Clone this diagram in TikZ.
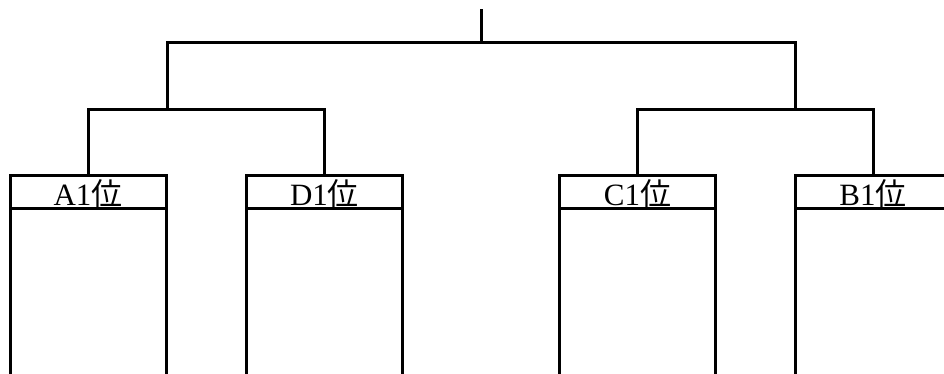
\documentclass[tikz,border=0pt]{standalone}
\usepackage{fontspec}
\setmainfont{Liberation Serif}
\newfontfamily\cjk{Noto Sans CJK JP}
\begin{document}
\begin{tikzpicture}[x=1pt,y=-1pt,
  ln/.style={line width=3pt,line join=miter,black},
  head/.style={ln,draw,rectangle,anchor=north west,minimum width=156pt,minimum height=33pt,inner sep=0pt,outer sep=0pt,font=\fontsize{31}{33}\selectfont,text depth=0pt}]
\useasboundingbox (0,0) rectangle (944,373);
\clip (0,0) rectangle (944,373);
\fill[white] (0,0) rectangle (944,373);
\node[head] (A) at (10,175) {\raisebox{-2pt}{A1{\cjk 位}}};
\node[head] (D) at (246.5,175) {\raisebox{-2pt}{D1{\cjk 位}}};
\node[head] (C) at (559.5,175) {\raisebox{-2pt}{C1{\cjk 位}}};
\node[head] (B) at (795,175) {\raisebox{-2pt}{B1{\cjk 位}}};
\coordinate (LJ) at (167,109);
\coordinate (RJ) at (795,109);
\coordinate (T) at (481,42);
\coordinate (top) at (481,9);
\foreach \n in {A,D,C,B}{
  \draw[ln] (\n.south west) -- ++(0,200);
  \draw[ln] (\n.south east) -- ++(0,200);
}
\draw[ln] (A.north) -- (A.north |- LJ) -- (D.north |- LJ) -- (D.north);
\draw[ln] (C.north) -- (C.north |- RJ) -- (B.north |- RJ) -- (B.north);
\draw[ln] (LJ) -- (LJ |- T) -- (RJ |- T) -- (RJ);
\draw[ln] (top) -- (T);
\end{tikzpicture}
\end{document}
